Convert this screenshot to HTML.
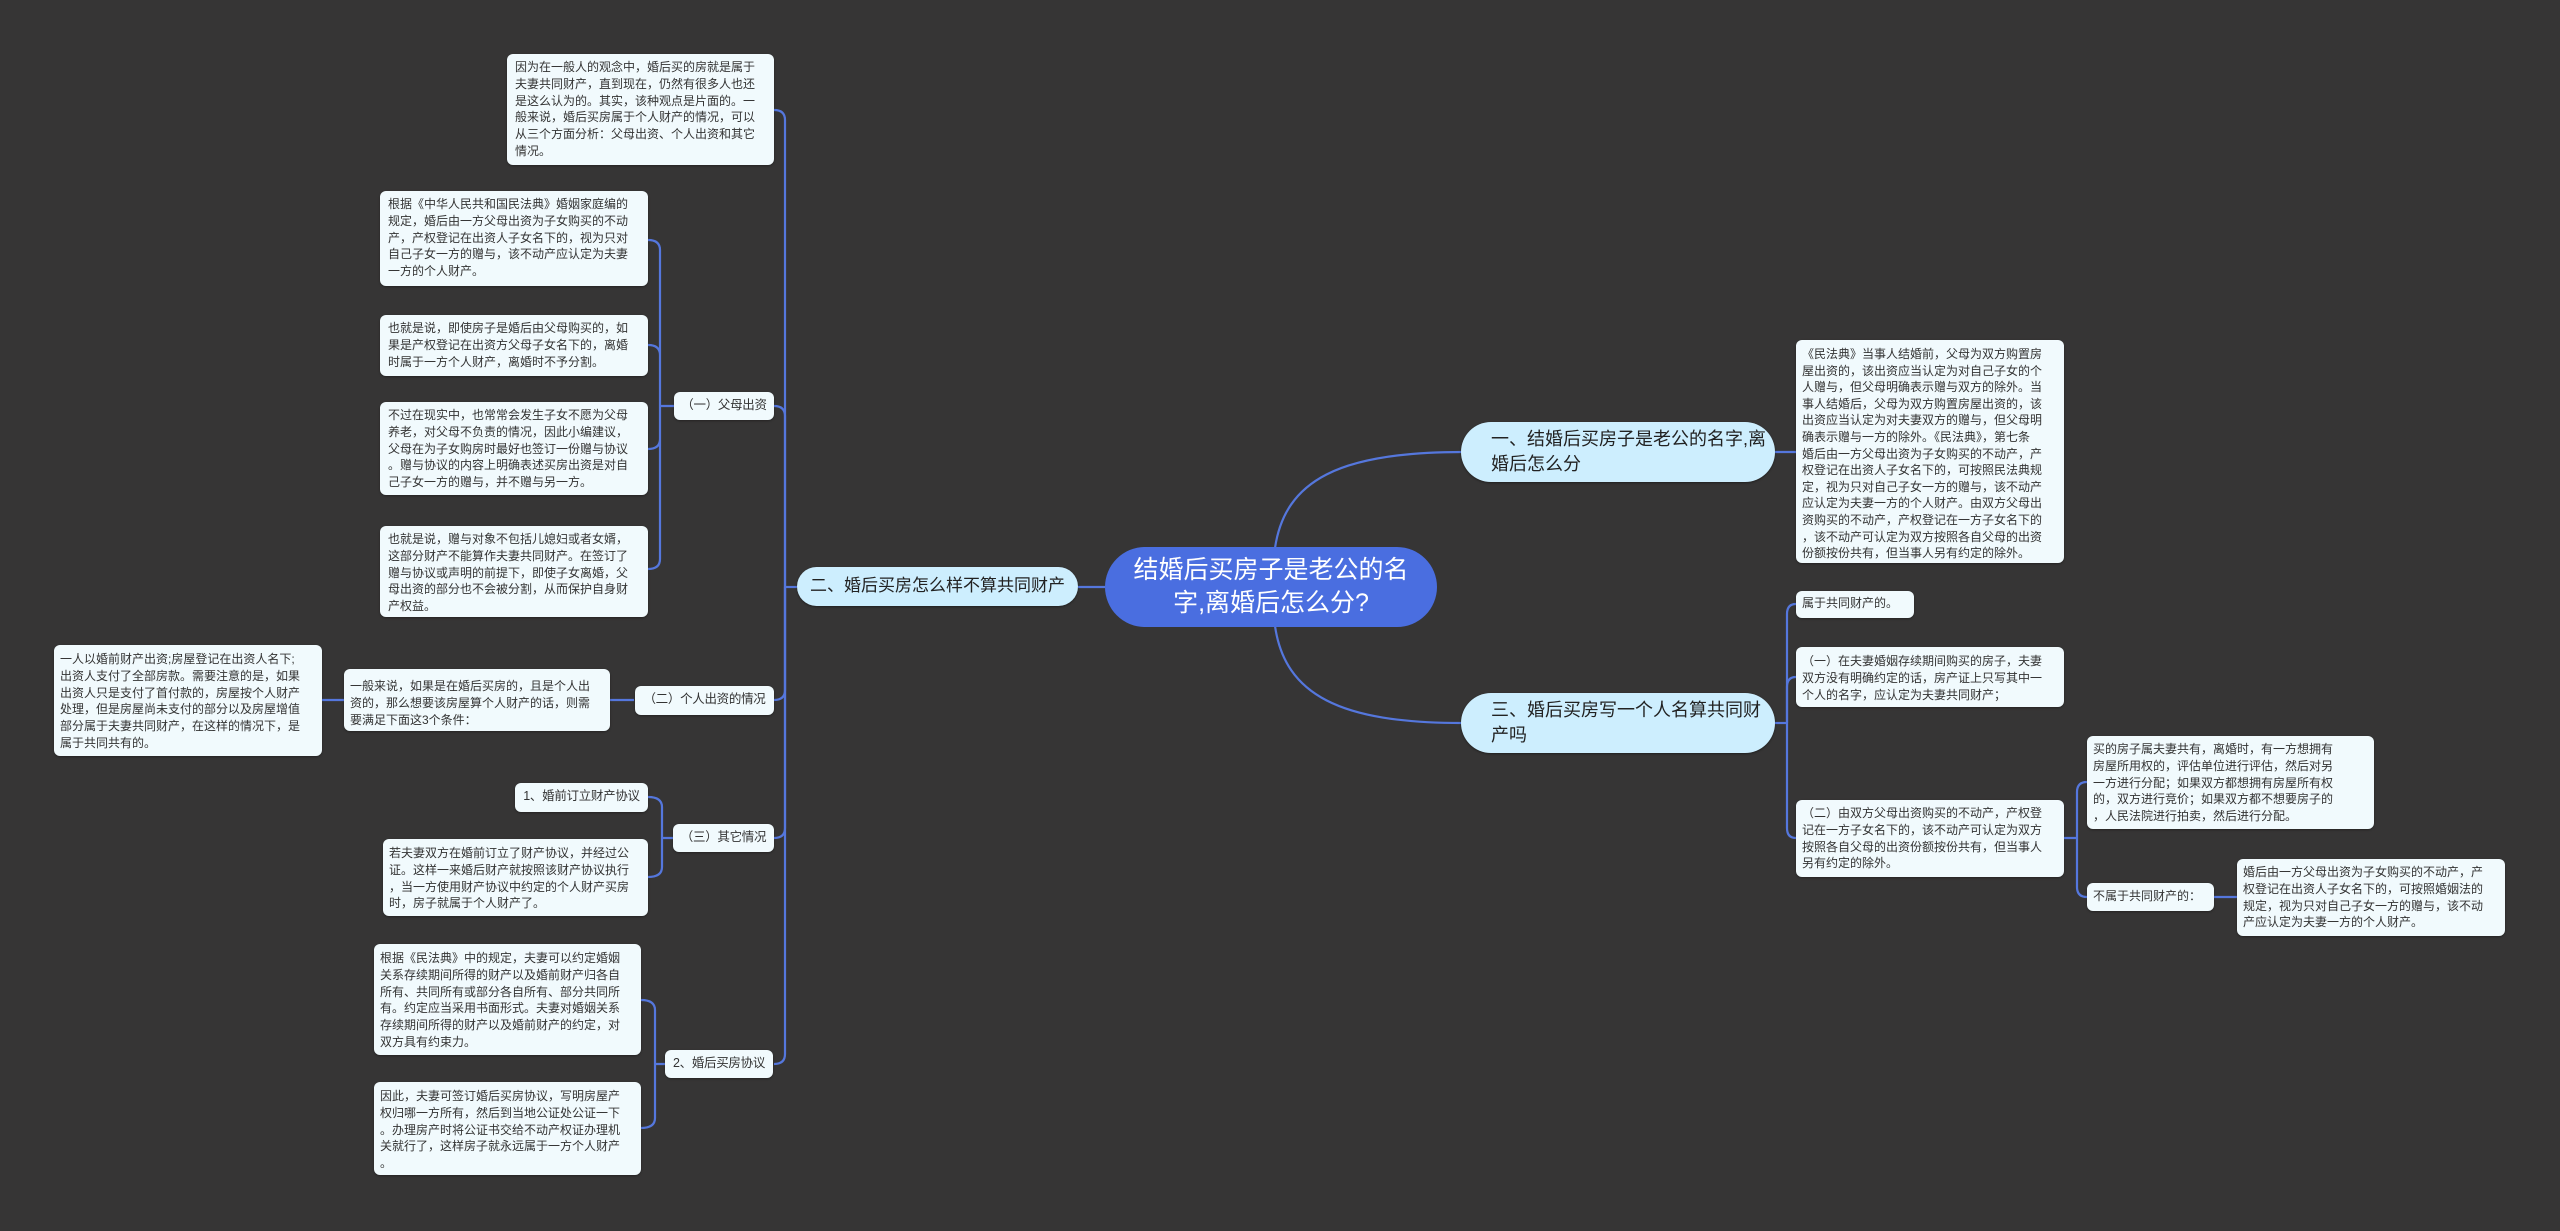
<!DOCTYPE html>
<html><head><meta charset="utf-8">
<style>
html,body{margin:0;padding:0;}
body{width:2560px;height:1231px;background:#363535;position:relative;overflow:hidden;font-family:"Liberation Sans","Noto Sans CJK SC",sans-serif;}
.n{position:absolute;box-sizing:border-box;background:#f1fafd;border-radius:6px;color:#333;font-size:12px;line-height:16.8px;padding:5px 8px;white-space:nowrap;overflow:hidden;box-shadow:0 1px 2px rgba(0,0,0,.35);}
.b{position:absolute;box-sizing:border-box;background:#cdeefe;border-radius:30px;color:#222;font-size:18px;line-height:25px;padding:5px 0 0 30px;white-space:nowrap;box-shadow:0 1px 2px rgba(0,0,0,.4);}
.s{position:absolute;box-sizing:border-box;background:#f1fafd;border-radius:6px;color:#333;font-size:12.5px;line-height:27px;padding:0 2px;white-space:nowrap;text-align:center;box-shadow:0 1px 2px rgba(0,0,0,.35);letter-spacing:-0.3px;}
svg{position:absolute;left:0;top:0;}
</style></head><body>
<svg width="2560" height="1231" fill="none" stroke="#5577dd" stroke-width="2.2">
<path d="M1275 548 C1285 480 1340 452 1462 452"/>
<path d="M1275 626 C1285 695 1340 723 1462 723"/>
<path d="M1105 587 H1078"/>
<path d="M1775 452 H1796"/>
<path d="M1775 723 H1787"/>
<path d="M1787 723 V614 Q1787 604 1796 604"/>
<path d="M1787 723 V687 Q1787 677 1796 677"/>
<path d="M1787 723 V828 Q1787 838 1796 838"/>
<path d="M2064 838 H2077 M2077 838 V792 Q2077 782 2087 782 M2077 838 V887 Q2077 897 2087 897"/>
<path d="M2214 897 H2237"/>
<path d="M797 587 H785"/>
<path d="M785 587 V120 Q785 110 774 110"/>
<path d="M785 587 V416 Q785 406 774 406"/>
<path d="M785 587 V690 Q785 700 774 700"/>
<path d="M785 587 V828 Q785 838 774 838"/>
<path d="M785 587 V1054 Q785 1064 774 1064"/>
<path d="M674 406 H660 M660 406 V250 Q660 240 648 240 M660 406 V355 Q660 345 648 345 M660 406 V439 Q660 449 648 449 M660 406 V559 Q660 569 648 569"/>
<path d="M634 700 H610 M344 700 H322"/>
<path d="M673 838 H662 M662 838 V807 Q662 797 648 797 M662 838 V867 Q662 877 648 877"/>
<path d="M665 1064 H655 M655 1064 V1010 Q655 1000 641 1000 M655 1064 V1118 Q655 1128 641 1128"/>
</svg>

<div style="position:absolute;left:1105px;top:547px;width:332px;height:80px;background:#4a6ee0;border-radius:40px;color:#fff;font-size:25px;line-height:33px;text-align:center;padding-top:7px;box-sizing:border-box;">结婚后买房子是老公的名<br>字,离婚后怎么分?</div>

<div class="b" style="left:1461px;top:422px;width:314px;height:60px;">一、结婚后买房子是老公的名字,离<br>婚后怎么分</div>
<div class="b" style="left:1461px;top:693px;width:314px;height:60px;">三、婚后买房写一个人名算共同财<br>产吗</div>
<div class="b" style="left:797px;top:567px;width:281px;height:39px;border-radius:20px;padding:6px 0 0 0;text-align:center;font-size:17px;">二、婚后买房怎么样不算共同财产</div>

<div class="n" style="left:1796px;top:340px;width:268px;height:223px;line-height:16.6px;padding:6px 6px;">《民法典》当事人结婚前，父母为双方购置房<br>屋出资的，该出资应当认定为对自己子女的个<br>人赠与，但父母明确表示赠与双方的除外。当<br>事人结婚后，父母为双方购置房屋出资的，该<br>出资应当认定为对夫妻双方的赠与，但父母明<br>确表示赠与一方的除外。《民法典》，第七条<br>婚后由一方父母出资为子女购买的不动产，产<br>权登记在出资人子女名下的，可按照民法典规<br>定，视为只对自己子女一方的赠与，该不动产<br>应认定为夫妻一方的个人财产。由双方父母出<br>资购买的不动产，产权登记在一方子女名下的<br>，该不动产可认定为双方按照各自父母的出资<br>份额按份共有，但当事人另有约定的除外。</div>
<div class="n" style="left:1796px;top:591px;width:118px;height:27px;padding:4px 6px;">属于共同财产的。</div>
<div class="n" style="left:1796px;top:647px;width:268px;height:60px;padding:6px 6px;">（一）在夫妻婚姻存续期间购买的房子，夫妻<br>双方没有明确约定的话，房产证上只写其中一<br>个人的名字，应认定为夫妻共同财产；</div>
<div class="n" style="left:1796px;top:800px;width:268px;height:77px;padding:5px 6px;">（二）由双方父母出资购买的不动产，产权登<br>记在一方子女名下的，该不动产可认定为双方<br>按照各自父母的出资份额按份共有，但当事人<br>另有约定的除外。</div>
<div class="n" style="left:2087px;top:736px;width:287px;height:93px;padding:5px 6px;">买的房子属夫妻共有，离婚时，有一方想拥有<br>房屋所用权的，评估单位进行评估，然后对另<br>一方进行分配；如果双方都想拥有房屋所有权<br>的，双方进行竞价；如果双方都不想要房子的<br>，人民法院进行拍卖，然后进行分配。</div>
<div class="n" style="left:2087px;top:883px;width:127px;height:28px;padding:5px 6px;">不属于共同财产的：</div>
<div class="n" style="left:2237px;top:859px;width:268px;height:77px;padding:5px 6px;">婚后由一方父母出资为子女购买的不动产，产<br>权登记在出资人子女名下的，可按照婚姻法的<br>规定，视为只对自己子女一方的赠与，该不动<br>产应认定为夫妻一方的个人财产。</div>

<div class="n" style="left:507px;top:54px;width:267px;height:111px;">因为在一般人的观念中，婚后买的房就是属于<br>夫妻共同财产，直到现在，仍然有很多人也还<br>是这么认为的。其实，该种观点是片面的。一<br>般来说，婚后买房属于个人财产的情况，可以<br>从三个方面分析：父母出资、个人出资和其它<br>情况。</div>
<div class="s" style="left:674px;top:392px;width:100px;height:28px;">（一）父母出资</div>
<div class="n" style="left:380px;top:191px;width:268px;height:95px;">根据《中华人民共和国民法典》婚姻家庭编的<br>规定，婚后由一方父母出资为子女购买的不动<br>产，产权登记在出资人子女名下的，视为只对<br>自己子女一方的赠与，该不动产应认定为夫妻<br>一方的个人财产。</div>
<div class="n" style="left:380px;top:315px;width:268px;height:61px;">也就是说，即使房子是婚后由父母购买的，如<br>果是产权登记在出资方父母子女名下的，离婚<br>时属于一方个人财产，离婚时不予分割。</div>
<div class="n" style="left:380px;top:402px;width:268px;height:93px;">不过在现实中，也常常会发生子女不愿为父母<br>养老，对父母不负责的情况，因此小编建议，<br>父母在为子女购房时最好也签订一份赠与协议<br>。赠与协议的内容上明确表述买房出资是对自<br>己子女一方的赠与，并不赠与另一方。</div>
<div class="n" style="left:380px;top:526px;width:268px;height:91px;">也就是说，赠与对象不包括儿媳妇或者女婿，<br>这部分财产不能算作夫妻共同财产。在签订了<br>赠与协议或声明的前提下，即使子女离婚，父<br>母出资的部分也不会被分割，从而保护自身财<br>产权益。</div>

<div class="s" style="left:635px;top:686px;width:139px;height:29px;">（二）个人出资的情况</div>
<div class="n" style="left:344px;top:669px;width:266px;height:62px;padding:9px 6px;">一般来说，如果是在婚后买房的，且是个人出<br>资的，那么想要该房屋算个人财产的话，则需<br>要满足下面这3个条件：</div>
<div class="n" style="left:54px;top:645px;width:268px;height:111px;padding:6px 6px;">一人以婚前财产出资;房屋登记在出资人名下;<br>出资人支付了全部房款。需要注意的是，如果<br>出资人只是支付了首付款的，房屋按个人财产<br>处理，但是房屋尚未支付的部分以及房屋增值<br>部分属于夫妻共同财产，在这样的情况下，是<br>属于共同共有的。</div>

<div class="s" style="left:673px;top:824px;width:101px;height:28px;">（三）其它情况</div>
<div class="s" style="left:515px;top:783px;width:133px;height:29px;">1、婚前订立财产协议</div>
<div class="n" style="left:383px;top:839px;width:265px;height:77px;padding:6px 6px;">若夫妻双方在婚前订立了财产协议，并经过公<br>证。这样一来婚后财产就按照该财产协议执行<br>，当一方使用财产协议中约定的个人财产买房<br>时，房子就属于个人财产了。</div>

<div class="s" style="left:665px;top:1050px;width:108px;height:28px;">2、婚后买房协议</div>
<div class="n" style="left:374px;top:944px;width:267px;height:111px;padding:6px 6px;">根据《民法典》中的规定，夫妻可以约定婚姻<br>关系存续期间所得的财产以及婚前财产归各自<br>所有、共同所有或部分各自所有、部分共同所<br>有。约定应当采用书面形式。夫妻对婚姻关系<br>存续期间所得的财产以及婚前财产的约定，对<br>双方具有约束力。</div>
<div class="n" style="left:374px;top:1082px;width:267px;height:93px;padding:6px 6px;">因此，夫妻可签订婚后买房协议，写明房屋产<br>权归哪一方所有，然后到当地公证处公证一下<br>。办理房产时将公证书交给不动产权证办理机<br>关就行了，这样房子就永远属于一方个人财产<br>。</div>
</body></html>
